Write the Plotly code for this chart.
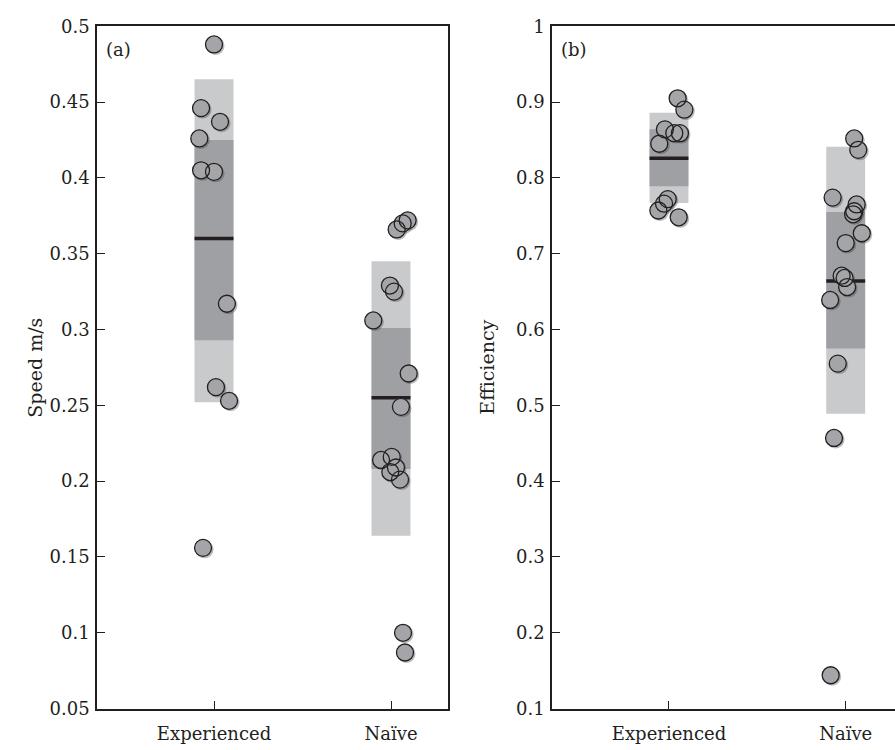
import plotly.graph_objects as go

# ---- data -------------------------------------------------------------
groups = ["Experienced", "Naïve"]
group_pos = [1, 2]

# Panel (a): speed (m/s)
speed_exp_x = [1.000, 0.927, 1.034, 0.917, 0.927, 1.000, 1.073, 1.011, 1.085, 0.938]
speed_exp_y = [0.488, 0.446, 0.437, 0.426, 0.405, 0.404, 0.317, 0.262, 0.253, 0.156]
speed_nai_x = [2.032, 2.066, 2.094, 1.994, 2.017, 1.900, 2.100, 2.056, 1.944, 2.004,
               2.028, 1.996, 2.051, 2.068, 2.079]
speed_nai_y = [0.366, 0.370, 0.372, 0.329, 0.325, 0.306, 0.271, 0.249, 0.214, 0.216,
               0.209, 0.206, 0.201, 0.100, 0.087]
# box summaries per group: [outer_lo, inner_lo, median, inner_hi, outer_hi]
speed_box_exp = [0.252, 0.293, 0.360, 0.425, 0.465]
speed_box_nai = [0.164, 0.208, 0.255, 0.301, 0.345]

# Panel (b): efficiency
eff_exp_x = [1.049, 1.087, 0.977, 1.030, 1.062, 0.945, 0.993, 0.972, 0.940, 1.055]
eff_exp_y = [0.905, 0.890, 0.864, 0.859, 0.859, 0.845, 0.772, 0.766, 0.757, 0.748]
eff_nai_x = [2.048, 2.071, 1.926, 2.062, 2.048, 2.042, 2.091, 2.000, 1.977, 1.994,
             2.008, 1.912, 1.955, 1.934, 1.915]
eff_nai_y = [0.852, 0.837, 0.774, 0.765, 0.756, 0.752, 0.727, 0.714, 0.671, 0.668,
             0.656, 0.639, 0.555, 0.457, 0.144]
eff_box_exp = [0.767, 0.789, 0.826, 0.864, 0.886]
eff_box_nai = [0.489, 0.575, 0.664, 0.755, 0.841]

speed_ticks = [0.05, 0.1, 0.15, 0.2, 0.25, 0.3, 0.35, 0.4, 0.45, 0.5]
speed_ticktext = ["0.05", "0.1", "0.15", "0.2", "0.25", "0.3", "0.35", "0.4", "0.45", "0.5"]
eff_ticks = [0.1, 0.2, 0.3, 0.4, 0.5, 0.6, 0.7, 0.8, 0.9, 1.0]
eff_ticktext = ["0.1", "0.2", "0.3", "0.4", "0.5", "0.6", "0.7", "0.8", "0.9", "1"]

# ---- styling ----------------------------------------------------------
W, H = 895, 750
INK = "#231f20"
LIGHT = "#c9cacc"
DARK = "#9fa0a3"
DOT = "#a4a5a8"
FONT = "DejaVu Serif"
TICK_SIZE = 18
TITLE_SIZE = 19
BOX_W = 0.22
DOT_SIZE = 17


def px_x(p):
    return p / W


def px_y(p):
    return 1 - p / H


fig = go.Figure()

# plot-area geometry (pixels)
Y_TOP, Y_BOT = 15.7, 717.7
xdom_px = {1: (97, 448), 2: (552, 895)}
xrng = {1: (0.339, 2.322), 2: (0.338, 2.279)}


def add_panel(xa, ya, box_list, pts, yspan):
    xref = "x" if xa == 1 else f"x{xa}"
    yref = "y" if ya == 1 else f"y{ya}"
    # outer (light) and inner (dark) bands
    for lo_i, hi_i, col in [(0, 4, LIGHT), (1, 3, DARK)]:
        fig.add_trace(go.Bar(
            x=group_pos, y=[b[hi_i] - b[lo_i] for b in box_list],
            base=[b[lo_i] for b in box_list], width=BOX_W,
            marker=dict(color=col, line=dict(width=0)),
            xaxis=xref, yaxis=yref, showlegend=False, hoverinfo="skip"))
    # medians
    for gp, b in zip(group_pos, box_list):
        fig.add_trace(go.Scatter(
            x=[gp - BOX_W / 2, gp + BOX_W / 2], y=[b[2], b[2]], mode="lines",
            line=dict(color=INK, width=3.5), xaxis=xref, yaxis=yref,
            showlegend=False, hoverinfo="skip"))
    xs = [v for p in pts for v in p[0]]
    ys = [v for p in pts for v in p[1]]
    # soft drop shadow, offset ~1.5 px down-right
    dx = 1.5 * (xrng[xa][1] - xrng[xa][0]) / (xdom_px[xa][1] - xdom_px[xa][0])
    dy = 1.5 * yspan / (Y_BOT - Y_TOP)
    fig.add_trace(go.Scatter(
        x=[v + dx for v in xs], y=[v - dy for v in ys], mode="markers",
        marker=dict(size=DOT_SIZE + 1, color="rgba(60,60,60,0.35)", line=dict(width=0)),
        xaxis=xref, yaxis=yref, showlegend=False, hoverinfo="skip"))
    # filled discs first, outlines afterwards so every ring stays visible
    fig.add_trace(go.Scatter(
        x=xs, y=ys, mode="markers",
        marker=dict(size=DOT_SIZE, color=DOT, line=dict(width=0)),
        xaxis=xref, yaxis=yref, showlegend=False, hoverinfo="skip"))
    fig.add_trace(go.Scatter(
        x=xs, y=ys, mode="markers",
        marker=dict(size=DOT_SIZE, symbol="circle-open", color=INK, line=dict(width=1.3)),
        xaxis=xref, yaxis=yref, showlegend=False, hoverinfo="skip"))


add_panel(1, 1, [speed_box_exp, speed_box_nai],
          [(speed_exp_x, speed_exp_y), (speed_nai_x, speed_nai_y)], 0.45)
add_panel(2, 2, [eff_box_exp, eff_box_nai],
          [(eff_exp_x, eff_exp_y), (eff_nai_x, eff_nai_y)], 0.9)

axis_common = dict(
    showline=True, linecolor=INK, linewidth=1.5, ticks="inside", tickcolor=INK,
    tickwidth=1.3, ticklen=8, showgrid=False, zeroline=False,
    tickfont=dict(family=FONT, size=TICK_SIZE, color=INK), fixedrange=True)

ydom = [px_y(Y_BOT), px_y(Y_TOP)]

fig.update_layout(
    width=W, height=H, margin=dict(l=0, r=0, t=0, b=0),
    paper_bgcolor="white", plot_bgcolor="white", barmode="overlay",
    xaxis=dict(domain=[px_x(97), px_x(448)], range=list(xrng[1]),
               tickvals=group_pos, ticktext=groups, mirror=True, anchor="y",
               ticklabelstandoff=8, **axis_common),
    yaxis=dict(domain=ydom, range=[0.05, 0.5], tickvals=speed_ticks,
               ticktext=speed_ticktext, mirror=True, anchor="x",
               ticklabelstandoff=2, **axis_common),
    xaxis2=dict(domain=[px_x(552), 1.0], range=list(xrng[2]),
                tickvals=group_pos, ticktext=groups, mirror=True, anchor="y2",
                ticklabelstandoff=8, **axis_common),
    yaxis2=dict(domain=ydom, range=[0.1, 1.0], tickvals=eff_ticks,
                ticktext=eff_ticktext, mirror=False, anchor="x2",
                ticklabelstandoff=2, **axis_common),
    annotations=[
        dict(text="(a)", x=px_x(104), y=px_y(27), xref="paper", yref="paper",
             xanchor="left", yanchor="top", showarrow=False,
             font=dict(family=FONT, size=TICK_SIZE, color=INK)),
        dict(text="(b)", x=px_x(559), y=px_y(27), xref="paper", yref="paper",
             xanchor="left", yanchor="top", showarrow=False,
             font=dict(family=FONT, size=TICK_SIZE, color=INK)),
        dict(text="Speed m/s", x=px_x(22), y=px_y(367), xref="paper", yref="paper",
             textangle=-90, showarrow=False,
             font=dict(family=FONT, size=TITLE_SIZE, color=INK)),
        dict(text="Efficiency", x=px_x(487), y=px_y(367), xref="paper", yref="paper",
             textangle=-90, showarrow=False,
             font=dict(family=FONT, size=TITLE_SIZE, color=INK)),
    ],
)

fig.write_html("out.html")
